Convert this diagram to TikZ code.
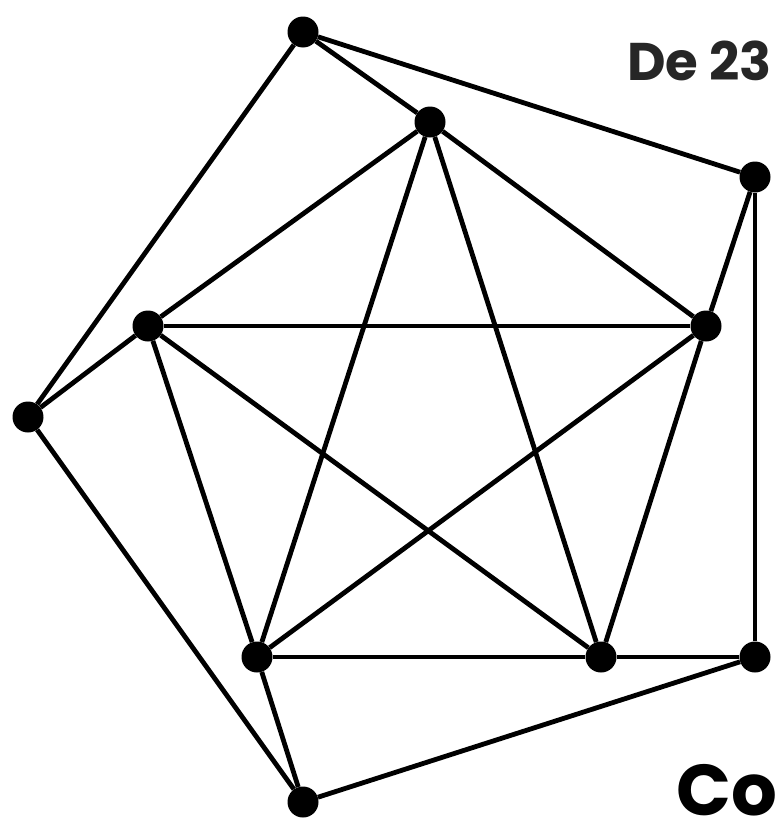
\documentclass[tikz,border=0pt]{standalone}
\usepackage{fontspec}
\usepackage{xcolor}
\definecolor{dgray}{RGB}{38,38,38}
\newfontfamily\titlefont{Poppins}
\usepackage{tikz}
\usetikzlibrary{arrows.meta,positioning,calc}

\begin{document}
\begin{tikzpicture}[
  x=1pt,y=-1pt,
  vtx/.style={circle,fill=black,inner sep=0pt,minimum size=31pt},
  edge/.style={line width=4.8pt,black},
  ttl/.style={anchor=base west,inner sep=0pt}
]
  \useasboundingbox (0,0) rectangle (774,822);

  % Inner pentagon
  \node[vtx] (a) at (430,122) {};
  \node[vtx] (b) at (148,326) {};
  \node[vtx] (c) at (706,326) {};
  \node[vtx] (d) at (257,657) {};
  \node[vtx] (e) at (601,657) {};

  % Outer ring
  \node[vtx] (f) at (303,32) {};
  \node[vtx] (g) at (755,177) {};
  \node[vtx] (h) at (28,417) {};
  \node[vtx] (i) at (755,657) {};
  \node[vtx] (j) at (303,802) {};

  % Titles
  \node[ttl,text=dgray,font=\titlefont\bfseries\fontsize{53}{62}\selectfont] (t1) at (627,80) {De 23};
  \node[ttl,text=black,font=\titlefont\bfseries\fontsize{72}{84}\selectfont] (t2) at (676,815) {Co};

  % Edges
  \draw[edge] (a) -- (b);
  \draw[edge] (a) -- (c);
  \draw[edge] (a) -- (d);
  \draw[edge] (a) -- (e);
  \draw[edge] (b) -- (c);
  \draw[edge] (b) -- (d);
  \draw[edge] (b) -- (e);
  \draw[edge] (c) -- (d);
  \draw[edge] (c) -- (e);
  \draw[edge] (d) -- (e);
  \draw[edge] (f) -- (a);
  \draw[edge] (f) -- (g);
  \draw[edge] (f) -- (h);
  \draw[edge] (g) -- (c);
  \draw[edge] (g) -- (i);
  \draw[edge] (h) -- (b);
  \draw[edge] (h) -- (j);
  \draw[edge] (i) -- (e);
  \draw[edge] (i) -- (j);
  \draw[edge] (j) -- (d);
\end{tikzpicture}
\end{document}
